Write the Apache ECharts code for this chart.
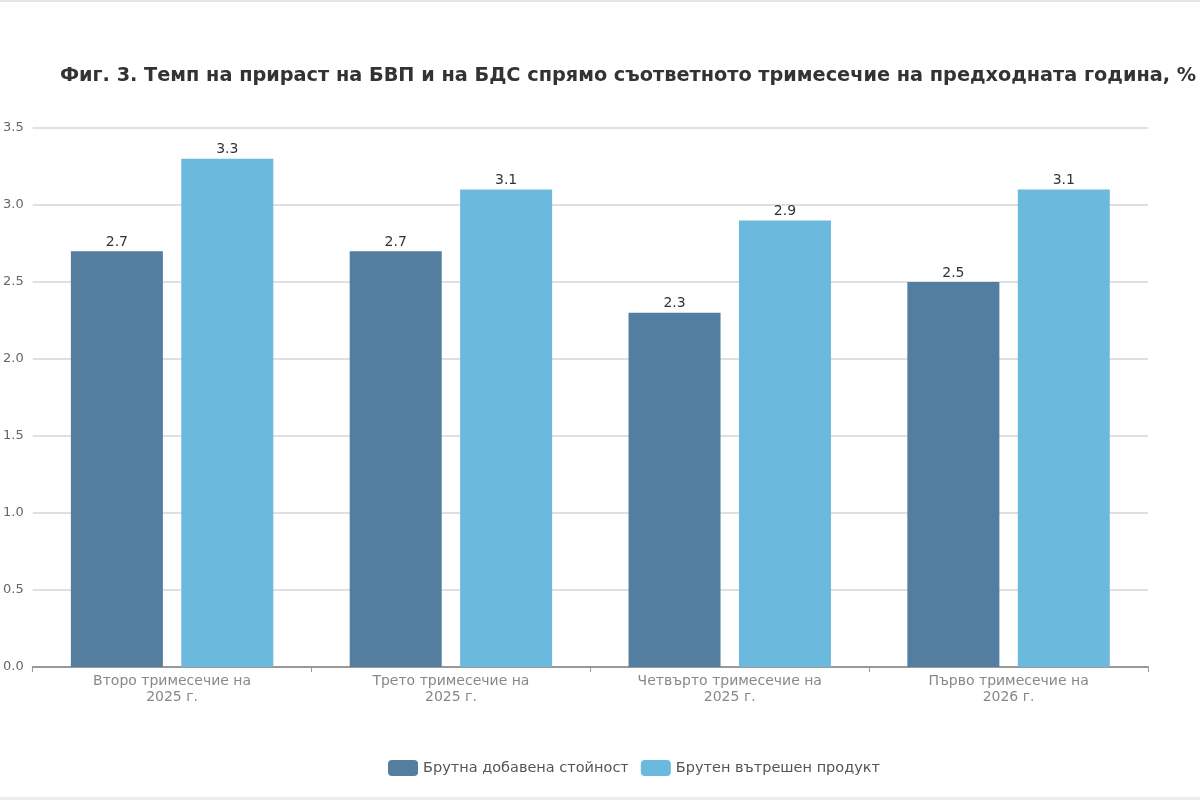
<!DOCTYPE html>
<html>
<head>
<meta charset="utf-8">
<script src="https://cdn.jsdelivr.net/npm/echarts@6/dist/echarts.min.js"></script>
<style>
  html, body { margin: 0; padding: 0; background: #fff; }
  #chart { width: 1200px; height: 800px; }
</style>
</head>
<body>
<div id="chart"></div>
<script>
const categories = [
  'Второ тримесечие на\n2025 г.',
  'Трето тримесечие на\n2025 г.',
  'Четвърто тримесечие на\n2025 г.',
  'Първо тримесечие на\n2026 г.'
]
const gvaValues = [2.7, 2.7, 2.3, 2.5]
const gdpValues = [3.3, 3.1, 2.9, 3.1]
const seriesNames = ['Брутна добавена стойност', 'Брутен вътрешен продукт']
const titleText = 'Фиг. 3. Темп на прираст на БВП и на БДС спрямо съответното тримесечие на предходната година, %'

const chart = echarts.init(document.getElementById('chart'))

const font = 'DejaVu Sans'

const option = {
  backgroundColor: '#fff',
  animation: false,
  title: {
    text: titleText,
    left: 623,
    top: 61,
    textAlign: 'center',
    textStyle: { fontFamily: font, fontSize: 19.3, fontWeight: 'bold', color: '#333' }
  },
  // faint frame lines at top and bottom edge of the picture
  graphic: [
    { type: 'rect', shape: { x: 0, y: 0, width: 1200, height: 2 }, style: { fill: '#e6e6e6' } },
    { type: 'rect', shape: { x: 0, y: 797, width: 1200, height: 3 }, style: { fill: '#ececec' } }
  ],
  legend: {
    data: seriesNames,
    bottom: 19,
    left: 383,
    itemWidth: 30,
    itemHeight: 16,
    itemGap: 12,
    textStyle: { fontFamily: font, fontSize: 14.5, color: '#555' }
  },
  grid: { left: 32, right: 52, top: 128, bottom: 133 },
  xAxis: {
    type: 'category',
    data: categories,
    axisLine: { lineStyle: { color: '#999', width: 2 } },
    axisTick: { show: true, length: 5, lineStyle: { color: '#999' } },
    axisLabel: { fontFamily: font, fontSize: 14, color: '#888', lineHeight: 16, margin: 6 }
  },
  yAxis: {
    type: 'value',
    min: 0,
    max: 3.5,
    interval: 0.5,
    axisLine: { show: false },
    axisTick: { show: false },
    axisLabel: {
      fontFamily: font, fontSize: 13, color: '#666', margin: 9,
      formatter: v => v.toFixed(1)
    },
    splitLine: { lineStyle: { color: '#e0e0e0', width: 2 } }
  },
  series: [
    {
      name: seriesNames[0],
      type: 'bar',
      data: gvaValues,
      barWidth: '33%',
      barGap: '20%',
      itemStyle: { color: '#537e9f' },
      label: {
        show: true, position: 'top', distance: 2,
        fontFamily: font, fontSize: 14, color: '#333',
        formatter: p => p.value.toFixed(1)
      }
    },
    {
      name: seriesNames[1],
      type: 'bar',
      data: gdpValues,
      barWidth: '33%',
      itemStyle: { color: '#6cb9de' },
      label: {
        show: true, position: 'top', distance: 2,
        fontFamily: font, fontSize: 14, color: '#333',
        formatter: p => p.value.toFixed(1)
      }
    }
  ]
}

chart.setOption(option)
</script>
</body>
</html>
